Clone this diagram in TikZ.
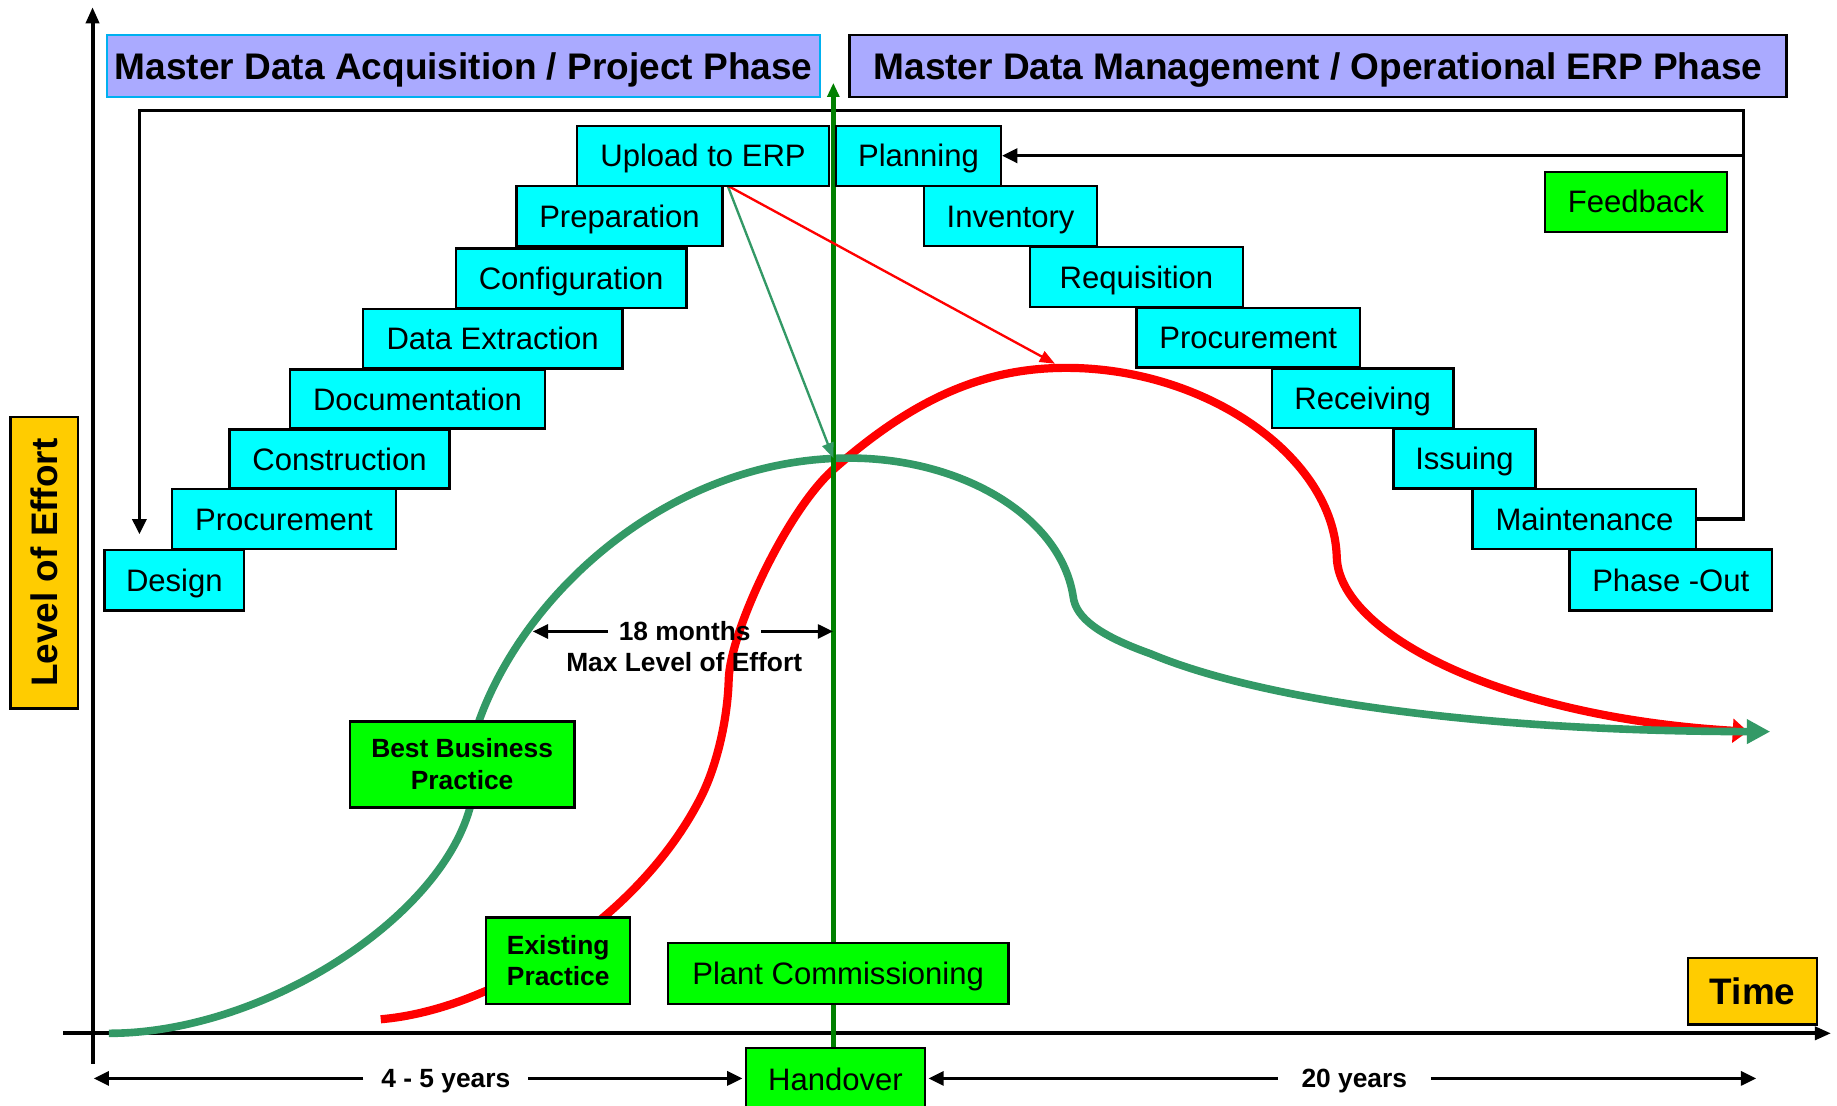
\documentclass[tikz,border=0pt]{standalone}
\usepackage{fontspec}
\setmainfont{Liberation Sans}
\usetikzlibrary{arrows.meta}
\definecolor{boxcyan}{RGB}{0,255,255}
\definecolor{boxgreen}{RGB}{0,255,0}
\definecolor{boxgold}{RGB}{255,204,0}
\definecolor{lavender}{RGB}{170,170,255}
\definecolor{hdrblue}{RGB}{0,176,240}
\definecolor{seagrn}{RGB}{51,153,102}
\definecolor{dkgreen}{RGB}{0,128,0}
\pgfdeclarelayer{bgzero}
\pgfdeclarelayer{bgone}
\pgfsetlayers{bgzero,bgone,main}
\newcommand{\mybx}[7]{\node[#1, minimum width={(#5)-(#3)}, minimum height={(#6)-(#4)}] (#2) at ({((#3)+(#5))/2},{((#4)+(#6))/2}) {#7};}
\begin{document}
\begin{tikzpicture}[x=1pt,y=-1pt,
  bx/.style={draw=black, line width=2pt, inner sep=0pt, text height=19pt, text depth=0pt, font=\fontsize{26.5}{30}\selectfont},
  cyanbx/.style={bx, fill=boxcyan},
  greenbx/.style={bx, fill=boxgreen},
  greenbold/.style={draw=black, line width=2pt, inner sep=0pt, fill=boxgreen, align=center, font=\bfseries\fontsize{22.5}{27}\selectfont},
  goldbx/.style={draw=black, line width=2pt, inner sep=0pt, fill=boxgold, text height=22.6pt, text depth=0pt, font=\bfseries\fontsize{31.5}{36}\selectfont},
  headbx/.style={line width=2pt, inner sep=0pt, fill=lavender, text height=22.6pt, text depth=0pt, font=\bfseries\fontsize{31.6}{36}\selectfont},
  dimlabel/.style={inner ysep=0pt, text height=16.1pt, text depth=0pt, font=\bfseries\fontsize{22.5}{27}\selectfont},
  dimarrow/.style={line width=2.5pt, -{Triangle[length=13pt,width=12pt]}},
  loopline/.style={line width=3pt, line join=miter},
  looptip/.style={-{Triangle[length=13pt,width=12pt]}},
  axisline/.style={line width=3.5pt, -{Triangle[length=14pt,width=11pt]}},
  curveline/.style={line join=round},
  thinarrow/.style={line width=2pt, -{Triangle[length=13pt,width=10pt]}},
  vline/.style={line width=3.7pt, draw=dkgreen, -{Triangle[length=12pt,width=10pt]}},
]
\useasboundingbox (0,0) rectangle (1568,944);
\begin{pgfonlayer}{bgzero}
\fill[white] (0,0) rectangle (1568,944);
\end{pgfonlayer}
\clip (0,0) rectangle (1568,944);

% headers
\mybx{headbx, draw=hdrblue}{hdrL}{91.6}{29.6}{700}{82.9}{Master Data Acquisition / Project Phase}
\mybx{headbx, draw=black}{hdrR}{725}{29.6}{1525}{82.9}{Master Data Management / Operational ERP Phase}

% left staircase
\mybx{cyanbx}{upload}{492.4}{107.3}{707.8}{158.5}{Upload to ERP}
\mybx{cyanbx}{prep}{441}{159}{616.6}{210}{Preparation}
\mybx{cyanbx}{config}{389}{212}{586}{263}{Configuration}
\mybx{cyanbx}{extract}{309.6}{263.7}{531.4}{314.6}{Data Extraction}
\mybx{cyanbx}{docu}{247.4}{315.5}{465.3}{365.8}{Documentation}
\mybx{cyanbx}{constr}{195.9}{366.7}{383.7}{417}{Construction}
\mybx{cyanbx}{procL}{146.8}{417.6}{338}{468.8}{Procurement}
\mybx{cyanbx}{design}{89.2}{469.7}{208.4}{521.2}{Design}

% right staircase
\mybx{cyanbx}{planning}{713.7}{107.3}{854.3}{158.5}{Planning}
\mybx{cyanbx}{inventory}{788.7}{159}{936.4}{210}{Inventory}
\mybx{cyanbx}{requisition}{879.4}{211}{1060.7}{262}{Requisition}
\mybx{cyanbx}{procR}{970}{262.8}{1160.8}{313.7}{Procurement}
\mybx{cyanbx}{receiving}{1085.7}{314.6}{1240.5}{365.2}{Receiving}
\mybx{cyanbx}{issuing}{1189.4}{366.3}{1310.6}{417}{Issuing}
\mybx{cyanbx}{maintenance}{1257}{417.6}{1447.9}{468.5}{Maintenance}
\mybx{cyanbx}{phaseout}{1339.7}{469}{1512.5}{521.2}{Phase -Out}

% green boxes
\mybx{greenbx}{feedback}{1319}{146.6}{1474}{198}{Feedback}
\mybx{greenbold}{bbp}{298.5}{615.7}{490.4}{689.2}{Best Business\\Practice}
\mybx{greenbold}{existing}{415}{783}{538}{857}{Existing\\Practice}
\mybx{greenbx}{plant}{570}{805}{860.8}{857}{Plant Commissioning}
\mybx{greenbx}{handover}{636.7}{894.6}{789.5}{948}{Handover}

% gold boxes
\mybx{goldbx}{timebx}{1441}{817.5}{1551}{874.5}{Time}
\node[goldbx, rotate=90, minimum width=249pt, minimum height=57.6pt] (loe) at (37.8,480.2) {Level of Effort};

% coordinates
\coordinate (lpR) at (1488,94.5);
\coordinate (lpL) at (119,94.5);
\coordinate (lpEnd) at (119,456);
\coordinate (yaxB) at (79,908);
\coordinate (yaxT) at (79,6);
\coordinate (xaxL) at (54,882);
\coordinate (xaxR) at (1563,882);
\coordinate (vtop) at (711.3,70.7);
\coordinate (upsrc) at (621.1,158.5);
\coordinate (greenpeak) at (711.3,391);
\coordinate (redpeak) at (900.5,310.5);

\begin{pgfonlayer}{bgone}
% axes
\draw[axisline] (yaxB) -- (yaxT);
\draw[axisline] (xaxL) -- (xaxR);
% feedback loop
\draw[loopline, looptip] (maintenance.east) -| (lpR) -- (lpL) -- (lpEnd);
\draw[loopline, looptip] (lpR |- planning.east) -- (planning.east);
% red curve (existing practice)
\draw[curveline, red, line width=7pt, -{Triangle[length=13pt,width=20pt]}]
  (325,870) .. controls (420,862) and (545,785) .. (598,681)
  .. controls (611.6,654.3) and (621,615) .. (622,580)
  .. controls (623,540) and (671,437) .. (711,401)
  .. controls (780,340) and (840,314) .. (910,314)
  .. controls (1030,314) and (1138,390) .. (1141,475)
  .. controls (1142,540) and (1280,612) .. (1492,624.5);
% green curve (best business practice)
\draw[curveline, seagrn, line width=6.5pt, -{Triangle[length=20pt,width=20pt]}]
  (93,882) .. controls (223,882) and (374,786) .. (401,690)
  .. controls (407.8,666) and (400.5,638.5) .. (409,615)
  .. controls (449.8,502.2) and (575,391) .. (725,391)
  .. controls (820,391) and (905,440) .. (916,509)
  .. controls (918,528) and (940,543) .. (982,558)
  .. controls (1070,595) and (1250,624) .. (1511,624.5);
% vertical handover line
\draw[vline] (handover.north -| vtop) -- (vtop);
% thin arrows
\draw[thinarrow, seagrn] (upsrc) -- (greenpeak);
\draw[thinarrow, red] (upsrc) -- (redpeak);
\end{pgfonlayer}

% dimension labels
\node[dimlabel, inner xsep=9pt] (m18) at (584.4,539) {18 months};
\node[dimlabel] (maxloe) at (584,565) {Max Level of Effort};
\node[dimlabel, inner xsep=15pt] (y45) at (380.5,920.5) {4 - 5 years};
\node[dimlabel, inner xsep=20pt] (y20) at (1156,920.5) {20 years};
\coordinate (m18L) at (454.8,539);
\coordinate (m18R) at (711,539);
\coordinate (y45L) at (80,920.5);
\coordinate (y20R) at (1499,920.5);
\draw[dimarrow] (m18.west) -- (m18L);
\draw[dimarrow] (m18.east) -- (m18R);
\draw[dimarrow] (y45.west) -- (y45L);
\draw[dimarrow, shorten >=2pt] (y45.east) -- (y45.east -| handover.west);
\draw[dimarrow, shorten >=2pt] (y20.west) -- (y20.west -| handover.east);
\draw[dimarrow] (y20.east) -- (y20R);
\end{tikzpicture}
\end{document}
